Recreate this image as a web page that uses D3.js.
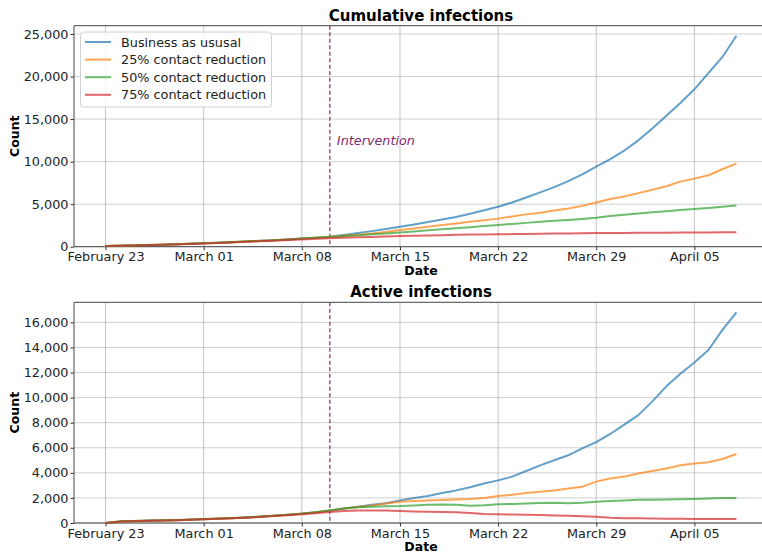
<!DOCTYPE html>
<html>
<head>
<meta charset="utf-8">
<script src="https://cdn.jsdelivr.net/npm/d3@7"></script>
<style>
  html, body { margin: 0; padding: 0; background: #fff; }
  svg { display: block; font-family: "DejaVu Sans", sans-serif; }
</style>
</head>
<body>
<svg id="chart" width="762" height="553"></svg>
<script>
// ---------- DATA ----------
const startDate = "2020-02-23";
const interventionDate = "2020-03-10";
const xTickLabels = ["2020-02-23", "2020-03-01", "2020-03-08", "2020-03-15", "2020-03-22", "2020-03-29", "2020-04-05"];
const seriesNames = ["Business as ususal", "25% contact reduction", "50% contact reduction", "75% contact reduction"];
const cumTicks = [0, 5000, 10000, 15000, 20000, 25000];
const actTicks = [0, 2000, 4000, 6000, 8000, 10000, 12000, 14000, 16000];

// Cumulative infections (daily, Feb 23 .. Apr 8)
const cumBusiness = [80, 110, 150, 190, 230, 280, 340, 400, 460, 530, 600, 680, 760, 850, 950, 1060, 1180,
  1380, 1600, 1830, 2080, 2350, 2620, 2900, 3200, 3480, 3880, 4280, 4700, 5200, 5780, 6380, 7000, 7700, 8500,
  9400, 10300, 11300, 12500, 13900, 15400, 16900, 18500, 20400, 22300, 24800];
const cum25 = [80, 110, 150, 190, 230, 280, 340, 400, 460, 530, 600, 680, 760, 850, 950, 1060, 1170,
  1290, 1410, 1550, 1740, 1950, 2140, 2340, 2540, 2740, 2940, 3100, 3300, 3550, 3800, 4000, 4250, 4500, 4800,
  5200, 5600, 5900, 6300, 6700, 7100, 7650, 8000, 8400, 9100, 9800];
const cum50 = [90, 120, 160, 200, 240, 290, 350, 410, 470, 540, 610, 690, 770, 860, 960, 1060, 1150,
  1250, 1350, 1450, 1560, 1680, 1800, 1920, 2050, 2180, 2300, 2420, 2550, 2680, 2800, 2920, 3050, 3150, 3270,
  3400, 3600, 3750, 3900, 4050, 4180, 4300, 4420, 4550, 4700, 4850];
const cum75 = [70, 100, 140, 180, 220, 270, 320, 380, 440, 500, 570, 640, 710, 780, 850, 920, 990,
  1050, 1100, 1150, 1200, 1250, 1290, 1330, 1360, 1390, 1420, 1440, 1460, 1480, 1500, 1520, 1540, 1560, 1580,
  1600, 1610, 1620, 1630, 1640, 1650, 1660, 1670, 1680, 1690, 1700];

// Active infections (daily, Feb 23 .. Apr 8)
const actBusiness = [0, 120, 150, 180, 200, 220, 260, 300, 340, 380, 430, 500, 570, 650, 740, 860, 1000,
  1150, 1300, 1450, 1580, 1800, 2000, 2150, 2400, 2600, 2850, 3150, 3400, 3700, 4150, 4600, 5000, 5400, 5950,
  6450, 7100, 7850, 8600, 9700, 10900, 11900, 12800, 13800, 15400, 16800];
const act25 = [0, 120, 150, 180, 200, 220, 260, 300, 340, 380, 430, 500, 570, 650, 740, 850, 980,
  1150, 1280, 1400, 1550, 1700, 1750, 1800, 1830, 1870, 1920, 2000, 2150, 2250, 2400, 2500, 2600, 2750, 2900,
  3300, 3550, 3700, 3950, 4150, 4350, 4600, 4750, 4850, 5100, 5500];
const act50 = [0, 130, 160, 190, 210, 230, 270, 310, 350, 390, 440, 510, 580, 660, 750, 860, 1000,
  1150, 1250, 1300, 1330, 1350, 1400, 1450, 1480, 1450, 1380, 1420, 1500, 1520, 1550, 1600, 1620, 1580, 1620,
  1700, 1760, 1800, 1850, 1860, 1870, 1890, 1910, 1950, 1990, 2000];
const act75 = [0, 110, 140, 170, 190, 210, 250, 290, 330, 370, 420, 480, 550, 620, 700, 780, 880,
  950, 1000, 1000, 990, 960, 920, 900, 880, 850, 800, 720, 690, 670, 650, 630, 600, 580, 540,
  500, 420, 380, 370, 350, 340, 330, 320, 320, 310, 310];

// ---------- STYLE ----------
const colors = ["#1f77b4", "#ff7f0e", "#2ca02c", "#d62728"];
const svg = d3.select("#chart");
const parse = d3.utcParse("%Y-%m-%d");
const t0 = parse(startDate);
const dayMs = 86400000;
const dates = d3.range(cumBusiness.length).map(i => new Date(t0.getTime() + i * dayMs));
const tFirst = dates[0], tLast = dates[dates.length - 1];
const span = tLast - tFirst;

const plotLeft = 74, plotRight = 768;
const x = d3.scaleUtc()
  .domain([new Date(tFirst.getTime() - span * 0.05), new Date(tLast.getTime() + span * 0.05)])
  .range([plotLeft, plotRight]);

function panel(cfg) {
  const { top, bottom, yMax, ticks, series, title, legend } = cfg;
  const y = d3.scaleLinear().domain([0, yMax]).range([bottom, top]);
  const g = svg.append("g");

  // grid
  g.append("g").selectAll("line").data(ticks).join("line")
    .attr("x1", plotLeft).attr("x2", plotRight)
    .attr("y1", d => y(d)).attr("y2", d => y(d))
    .attr("stroke", "#b0b0b0").attr("stroke-opacity", 0.6).attr("stroke-width", 1);
  g.append("g").selectAll("line").data(xTickLabels.map(parse)).join("line")
    .attr("x1", d => x(d)).attr("x2", d => x(d))
    .attr("y1", top).attr("y2", bottom)
    .attr("stroke", "#b0b0b0").attr("stroke-opacity", 0.75).attr("stroke-width", 1);

  // axes
  const xAxis = d3.axisBottom(x).tickValues(xTickLabels.map(parse))
    .tickFormat(d3.utcFormat("%B %d")).tickSize(3.5).tickPadding(2);
  const gx = g.append("g").attr("transform", `translate(0,${bottom})`).call(xAxis);
  const yAxis = d3.axisLeft(y).tickValues(ticks).tickFormat(d3.format(",")).tickSize(3.5).tickPadding(2);
  const gy = g.append("g").attr("transform", `translate(${plotLeft},0)`).call(yAxis);
  [gx, gy].forEach(a => {
    a.selectAll("text").attr("font-size", "12.8px").attr("fill", "#222")
      .attr("font-family", "DejaVu Sans, sans-serif");
    a.selectAll(".tick line").attr("stroke", "#333");
    a.select(".domain").remove();
  });

  // frame (left, top, bottom)
  g.append("line").attr("x1", plotLeft).attr("x2", plotLeft).attr("y1", top).attr("y2", bottom)
    .attr("stroke", "#444").attr("stroke-width", 1);
  g.append("line").attr("x1", plotLeft).attr("x2", plotRight).attr("y1", top).attr("y2", top)
    .attr("stroke", "#444").attr("stroke-width", 1);
  g.append("line").attr("x1", plotLeft).attr("x2", plotRight).attr("y1", bottom).attr("y2", bottom)
    .attr("stroke", "#444").attr("stroke-width", 1);

  // intervention line
  const xi = x(parse(interventionDate));
  g.append("line").attr("x1", xi).attr("x2", xi).attr("y1", top).attr("y2", bottom)
    .attr("stroke", "#7f2a6a").attr("stroke-width", 1.2).attr("stroke-dasharray", "4,2.5");

  // lines
  const line = d3.line().x((d, i) => x(dates[i])).y(d => y(d));
  series.forEach((s, i) => {
    g.append("path").datum(s).attr("d", line)
      .attr("fill", "none").attr("stroke", colors[i]).attr("stroke-opacity", 0.7)
      .attr("stroke-width", 2).attr("stroke-linejoin", "round");
  });

  // title and labels
  const cx = (plotLeft + plotRight) / 2;
  g.append("text").attr("x", cx).attr("y", top - 5).attr("text-anchor", "middle")
    .attr("font-size", "15px").attr("font-weight", "bold").attr("fill", "#000").text(title);
  g.append("text").attr("x", cx).attr("y", bottom + 28).attr("text-anchor", "middle")
    .attr("font-size", "12.5px").attr("font-weight", "bold").attr("fill", "#000").text("Date");
  g.append("text").attr("transform", `translate(19,${(top + bottom) / 2}) rotate(-90)`)
    .attr("text-anchor", "middle").attr("font-size", "12.5px").attr("font-weight", "bold")
    .attr("fill", "#000").text("Count");

  if (legend) {
    g.append("text").attr("x", xi + 7).attr("y", 145).attr("font-size", "12.8px")
      .attr("font-style", "italic").attr("fill", "#7f2a6a").text("Intervention");
    const lg = g.append("g");
    lg.append("rect").attr("x", 80.5).attr("y", 32).attr("width", 191).attr("height", 75)
      .attr("rx", 3).attr("fill", "#fff").attr("fill-opacity", 0.85)
      .attr("stroke", "#d0d0d0").attr("stroke-width", 1);
    seriesNames.forEach((n, i) => {
      const yy = 42 + i * 17.6;
      lg.append("line").attr("x1", 85).attr("x2", 111).attr("y1", yy).attr("y2", yy)
        .attr("stroke", colors[i]).attr("stroke-opacity", 0.7).attr("stroke-width", 2);
      lg.append("text").attr("x", 121).attr("y", yy + 4.6).attr("font-size", "12.8px")
        .attr("fill", "#222").text(n);
    });
  }
}

panel({ top: 25.7, bottom: 246.7, yMax: 25975, ticks: cumTicks,
  series: [cumBusiness, cum25, cum50, cum75], title: "Cumulative infections", legend: true });
panel({ top: 302.3, bottom: 523, yMax: 17600, ticks: actTicks,
  series: [actBusiness, act25, act50, act75], title: "Active infections", legend: false });
</script>
</body>
</html>
